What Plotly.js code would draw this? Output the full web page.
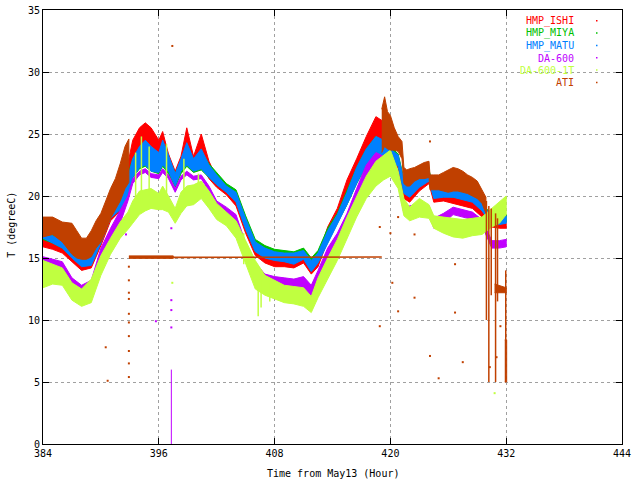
<!DOCTYPE html>
<html>
<head>
<meta charset="utf-8">
<script src="https://cdn.plot.ly/plotly-3.0.1.min.js"></script>
<style>
  html, body { margin: 0; padding: 0; background: #ffffff; }
  #chart { width: 640px; height: 480px; }
</style>
</head>
<body>
<div id="chart"></div>
<script>
// hours from May13, common sample grid for the HMP / DA bands
var hours = [
  384, 385, 386, 387, 388, 389, 390, 391, 392, 392.8,
  393.3, 394, 394.6, 395.2, 396, 396.4, 397, 397.7, 398.3, 398.9,
  399.6, 400.4, 401.2, 402, 403, 404, 405, 406, 407, 408,
  409, 410, 411, 411.8, 412.5, 413.5, 414.5, 415.5, 416.5, 417.5,
  418.5, 419.3, 420, 420.8, 421.4, 422, 423, 424, 424.5, 425.5,
  426.5, 427.5, 428.5, 429.5, 430.5, 431.3, 432
];

// HMP_ISHI (red) spread, low / high
var ishiLo = [
  15.9, 15.7, 15.4, 14.7, 14.0, 14.2, 16.0, 18.0, 18.8, 20.5,
  22.7, 23.5, 23.5, 23.0, 22.5, 23.5, 22.4, 20.8, 22.2, 23.3,
  22.0, 22.5, 21.4, 20.7, 20.1, 19.2, 17.0, 15.2, 14.6, 14.3,
  14.3, 14.2, 14.6, 13.7, 14.3, 16.4, 18.1, 20.0, 21.6, 23.2,
  24.8, 24.0, 23.0, 22.2, 19.8, 19.5, 20.4, 21.0, 19.5, 19.6,
  19.4, 19.2, 19.0, 18.3, 17.5, 17.4, 17.4
];
var ishiHi = [
  17.1, 16.6, 16.2, 15.5, 14.8, 15.0, 16.8, 18.7, 19.6, 22.5,
  24.5, 25.5, 25.9, 25.5, 24.5, 25.2, 23.4, 22.0, 23.2, 25.5,
  23.2, 25.0, 22.8, 21.5, 20.6, 20.0, 18.0, 16.0, 15.2, 15.0,
  15.0, 15.0, 15.2, 14.5, 15.1, 17.5, 19.0, 21.3, 23.0, 24.8,
  26.4, 26.0, 24.5, 23.0, 21.0, 20.8, 21.3, 21.8, 20.3, 20.2,
  20.0, 19.9, 19.7, 19.0, 17.9, 17.8, 17.8
];

// HMP_MIYA (green)
var miyaLo = [
  16.5, 16.2, 15.8, 15.0, 14.4, 14.5, 16.3, 18.3, 19.0, 20.2,
  21.5, 22.2, 22.4, 22.0, 21.8, 22.4, 21.8, 20.7, 21.8, 22.4,
  21.9, 22.1, 21.5, 21.0, 20.4, 19.6, 17.4, 15.6, 15.1, 14.9,
  14.8, 14.6, 15.0, 14.0, 14.7, 16.3, 17.8, 19.3, 21.0, 22.4,
  23.3, 23.0, 22.8, 22.5, 20.4, 20.0, 20.8, 21.3, 19.9, 20.0,
  19.9, 19.8, 19.6, 18.9, 17.8, 17.9, 17.9
];
var miyaHi = [
  17.1, 16.9, 16.6, 15.8, 15.1, 15.4, 17.2, 19.0, 19.7, 21.7,
  23.0, 23.8, 24.3, 23.8, 23.3, 24.3, 23.1, 21.8, 22.8, 24.0,
  22.9, 23.6, 22.6, 21.9, 21.0, 20.5, 18.4, 16.5, 16.0, 15.7,
  15.6, 15.5, 15.8, 15.0, 15.6, 17.4, 18.6, 20.4, 22.3, 23.8,
  24.8, 24.4, 23.9, 23.4, 21.4, 21.2, 21.7, 22.1, 20.6, 20.6,
  20.6, 20.4, 20.3, 19.5, 18.4, 18.4, 18.5
];

// HMP_MATU (blue)
var matuLo = [
  16.6, 16.2, 15.8, 15.0, 14.3, 14.4, 16.2, 18.2, 18.9, 20.0,
  21.5, 22.3, 22.5, 22.0, 21.9, 22.5, 22.0, 20.8, 22.0, 22.5,
  22.0, 22.2, 21.5, 20.9, 20.3, 19.5, 17.3, 15.5, 15.0, 14.8,
  14.7, 14.5, 14.9, 13.9, 14.6, 16.2, 17.7, 19.3, 21.0, 22.5,
  23.4, 23.0, 22.8, 22.4, 20.2, 19.9, 20.7, 21.2, 19.8, 19.9,
  19.9, 19.7, 19.5, 18.8, 17.7, 17.7, 17.8
];
var matuHi = [
  17.2, 16.8, 16.5, 15.7, 15.0, 15.2, 17.0, 18.8, 19.5, 21.5,
  23.0, 24.0, 24.5, 24.0, 23.5, 24.5, 23.3, 21.8, 23.0, 24.3,
  23.0, 23.8, 22.5, 21.7, 20.8, 20.3, 18.2, 16.3, 15.8, 15.5,
  15.4, 15.4, 15.6, 14.8, 15.4, 17.2, 18.5, 20.3, 22.3, 23.8,
  24.8, 24.5, 23.8, 23.3, 21.3, 21.0, 21.5, 22.0, 20.5, 20.5,
  20.5, 20.3, 20.2, 19.4, 18.3, 18.3, 18.4
];

// DA-600 (violet)
var da600Lo = [
  14.6, 14.4, 14.1, 12.8, 12.0, 12.3, 14.8, 16.4, 17.8, 19.6,
  21.0, 21.7, 21.9, 21.5, 21.4, 21.9, 21.4, 20.3, 21.3, 21.7,
  21.3, 21.4, 20.4, 19.0, 18.5, 17.8, 15.2, 13.7, 12.8, 12.6,
  12.5, 12.4, 12.6, 11.8, 13.0, 14.5, 16.0, 17.5, 19.3, 21.2,
  22.0, 22.0, 21.6, 21.0, 18.6, 18.7, 18.8, 18.6, 17.4, 17.8,
  18.5, 18.3, 18.1, 17.6, 15.8, 15.8, 15.9
];
var da600Hi = [
  15.1, 14.9, 14.7, 13.4, 12.8, 13.2, 15.8, 17.4, 18.8, 20.0,
  21.4, 22.0, 22.2, 21.8, 21.7, 22.2, 21.7, 20.6, 21.6, 22.0,
  21.6, 21.7, 20.8, 19.6, 19.1, 18.5, 16.2, 14.6, 13.7, 13.5,
  13.4, 13.3, 13.5, 12.8, 14.0, 15.8, 17.0, 18.6, 20.6, 22.5,
  23.5, 23.2, 22.8, 22.0, 19.3, 19.2, 19.4, 19.2, 18.2, 18.6,
  19.1, 18.9, 18.7, 18.1, 16.4, 16.4, 16.5
];

// DA-600-1T (yellow green)
var da6001tLo = [
  12.6, 12.9, 12.8, 11.6, 11.1, 11.4, 13.6, 15.3, 16.6, 17.3,
  17.8, 18.5, 18.8, 19.0, 18.9, 18.9, 18.7, 17.8, 18.6, 19.2,
  19.3, 19.8, 19.0, 18.1, 17.6, 16.6, 14.6, 12.5, 12.0, 11.7,
  11.4, 11.3, 11.1, 10.6, 11.8, 13.3, 14.8, 16.6, 18.3, 19.8,
  20.8, 21.3, 21.6, 20.6, 18.4, 18.0, 18.3, 18.2, 17.4, 17.0,
  16.7, 16.6, 16.8, 16.9, 17.5, 17.8, 18.5
];
var da6001tHi = [
  14.8, 14.5, 14.2, 13.0, 12.5, 13.3, 15.2, 16.6, 17.9, 18.7,
  19.6, 20.4, 20.5, 20.6, 20.2, 20.8, 20.0, 19.0, 20.3, 20.8,
  20.9, 21.2, 20.4, 19.4, 18.7, 18.0, 16.4, 14.8, 13.6, 13.2,
  12.8, 12.7, 12.6, 11.9, 13.4, 15.0, 16.5, 18.3, 20.0, 21.6,
  22.8, 23.3, 23.7, 22.0, 19.8, 19.1, 19.8, 19.3, 18.4, 18.3,
  18.2, 18.1, 18.2, 18.3, 19.0, 19.5, 20.0
];
// DA-600-1T single spikes
var da6001tSpikeH  = [393.6, 394.2, 395.0, 396.8, 398.6, 400.1, 404.8, 406.3, 406.6, 407.5];
var da6001tSpikeLo = [19.0, 19.5, 20.0, 19.5, 19.8, 20.5, 14.5, 10.3, 11.0, 11.5];
var da6001tSpikeHi = [23.5, 24.8, 24.0, 24.2, 23.0, 21.8, 17.0, 13.5, 13.5, 13.0];
var da6001tDotH = [397.4, 430.8];
var da6001tDotT = [13.0, 4.1];

// DA-600 stray points
var da600SpikeH  = [397.3];
var da600SpikeLo = [0.0];
var da600SpikeHi = [6.0];
var da600DotH = [397.3, 397.3, 397.3, 395.7, 397.3, 392.6];
var da600DotT = [11.6, 10.8, 9.4, 9.9, 17.4, 16.9];

// ATI (brown), three stretches
var atiH1  = [384, 385, 386, 387, 387.5, 388, 388.5, 389, 389.5, 390, 390.5, 391, 391.5, 392, 392.5, 392.9];
var atiLo1 = [16.7, 16.9, 16.3, 15.3, 15.0, 14.9, 14.9, 15.1, 15.8, 16.3, 17.2, 18.2, 18.9, 19.6, 20.6, 21.1];
var atiHi1 = [18.3, 18.3, 17.9, 17.8, 17.2, 16.6, 16.6, 17.2, 18.0, 18.6, 19.6, 20.6, 21.4, 22.6, 24.0, 24.6];

var atiFlatH  = [392.9, 397.5, 397.5, 419.1];
var atiFlatLo = [14.97, 14.97, 15.02, 15.02];
var atiFlatHi = [15.17, 15.17, 15.08, 15.08];

var atiH2 = [
  419.1, 419.4, 419.7, 420, 420.4, 420.8, 421.2, 421.4, 421.7, 422,
  422.5, 423, 423.5, 424, 424.1, 424.5, 425, 425.5, 426, 426.5,
  427, 427.5, 428, 428.5, 429, 429.5, 429.9
];
var atiLo2 = [
  23.5, 24.0, 23.8, 23.7, 23.7, 23.6, 23.0, 21.0, 20.8, 20.8,
  21.2, 21.4, 21.4, 21.5, 20.5, 20.5, 20.5, 20.4, 20.3, 20.4,
  20.4, 20.3, 20.2, 20.0, 19.8, 19.4, 18.6
];
var atiHi2 = [
  27.0, 28.0, 26.8, 26.5, 25.5, 24.8, 24.4, 22.3, 22.1, 22.2,
  22.3, 22.5, 22.7, 22.8, 21.7, 21.7, 21.7, 21.9, 22.1, 22.3,
  22.2, 22.0, 21.7, 21.5, 21.2, 20.5, 19.9
];
var atiBlockH  = [430.8, 432.0];
var atiBlockLo = [12.2, 12.2];
var atiBlockHi = [12.9, 12.6];
var atiColH  = [431.85, 432.05];
var atiColLo = [5.0, 5.0];
var atiColHi = [8.4, 8.4];
var atiSpikeH  = [429.95, 430.2, 430.45, 430.9, 431.1, 431.95];
var atiSpikeLo = [10.0, 5.0, 12.0, 5.0, 11.5, 8.4];
var atiSpikeHi = [19.6, 19.2, 19.0, 18.6, 18.2, 14.0];
var atiDotH = [
  392.9, 392.9, 392.9, 392.9, 392.9, 392.9, 392.9, 392.9, 392.9, 392.9,
  390.5, 390.7, 397.4, 418.9, 420.8, 420.0, 422.5, 424.1, 420.2, 422.5,
  420.8, 426.7, 426.7, 418.9, 424.1, 427.5, 425.0, 431.4, 431.0, 430.3
];
var atiDotT = [
  14.3, 13.2, 12.2, 11.7, 10.5, 9.8, 8.7, 7.5, 6.5, 5.4,
  7.8, 5.1, 32.1, 17.5, 18.3, 17.0, 16.9, 24.4, 13.0, 11.8,
  10.7, 14.5, 10.6, 9.5, 7.1, 6.6, 5.3, 9.5, 7.0, 6.2
];

var seriesNames  = ['HMP_ISHI', 'HMP_MIYA', 'HMP_MATU', 'DA-600', 'DA-600-1T', 'ATI'];
var seriesColors = ['#ff0000', '#00c000', '#0080ff', '#c000ff', '#c0ff40', '#c04000'];

var FONT = 'DejaVu Sans Mono, Liberation Mono, monospace';
// plot box in pixels (gnuplot frame)
var BOX = { left: 43, right: 622, top: 10, bottom: 444.3 };

function px_x(px) {
  return (px - BOX.left) / (BOX.right - BOX.left);
}

function px_y(py) {
  return (BOX.bottom - py) / (BOX.bottom - BOX.top);
}

function band(h, lo, hi, color) {
  return {
    x: h.concat(h.slice().reverse()),
    y: hi.concat(lo.slice().reverse()),
    type: 'scatter',
    mode: 'lines',
    fill: 'toself',
    fillcolor: color,
    line: { color: color, width: 1 },
    hoverinfo: 'skip',
    showlegend: false
  };
}

function spikes(h, lo, hi, color, width) {
  var x = [];
  var y = [];
  h.forEach(function (v, i) {
    x.push(v, v, null);
    y.push(lo[i], hi[i], null);
  });
  return {
    x: x,
    y: y,
    type: 'scatter',
    mode: 'lines',
    connectgaps: false,
    line: { color: color, width: width },
    hoverinfo: 'skip',
    showlegend: false
  };
}

function dots(h, t, color) {
  return {
    x: h,
    y: t,
    type: 'scatter',
    mode: 'markers',
    marker: { color: color, size: 2, symbol: 'square', line: { width: 0 } },
    hoverinfo: 'skip',
    showlegend: false
  };
}

var c = seriesColors;
var traces = [
  band(hours, ishiLo, ishiHi, c[0]),
  band(hours, miyaLo, miyaHi, c[1]),
  band(hours, matuLo, matuHi, c[2]),
  band(hours, da600Lo, da600Hi, c[3]),
  spikes(da600SpikeH, da600SpikeLo, da600SpikeHi, c[3], 1),
  dots(da600DotH, da600DotT, c[3]),
  band(hours, da6001tLo, da6001tHi, c[4]),
  spikes(da6001tSpikeH, da6001tSpikeLo, da6001tSpikeHi, c[4], 1.5),
  dots(da6001tDotH, da6001tDotT, c[4]),
  band(atiH1, atiLo1, atiHi1, c[5]),
  band(atiFlatH, atiFlatLo, atiFlatHi, c[5]),
  band(atiH2, atiLo2, atiHi2, c[5]),
  band(atiBlockH, atiBlockLo, atiBlockHi, c[5]),
  band(atiColH, atiColLo, atiColHi, c[5]),
  spikes(atiSpikeH, atiSpikeLo, atiSpikeHi, c[5], 1.5),
  dots(atiDotH, atiDotT, c[5])
];

var annotations = [
  {
    text: 'Time from May13 (Hour)',
    xref: 'paper', yref: 'paper',
    x: 0.5, y: px_y(474),
    xanchor: 'center', yanchor: 'middle',
    showarrow: false,
    font: { family: FONT, size: 10, color: '#000000' }
  },
  {
    text: 'T (degreeC)',
    xref: 'paper', yref: 'paper',
    x: px_x(12), y: px_y(225),
    xanchor: 'center', yanchor: 'middle',
    textangle: -90,
    showarrow: false,
    font: { family: FONT, size: 10, color: '#000000' }
  }
];
var shapes = [];

seriesNames.forEach(function (name, i) {
  var rowY = 21 + i * 12.35;
  annotations.push({
    text: name,
    xref: 'paper', yref: 'paper',
    x: px_x(576), y: px_y(rowY),
    xanchor: 'right', yanchor: 'middle',
    showarrow: false,
    font: { family: FONT, size: 10, color: seriesColors[i] }
  });
  shapes.push({
    type: 'rect',
    xref: 'paper', yref: 'paper',
    x0: px_x(596), x1: px_x(597.5),
    y0: px_y(rowY - 1), y1: px_y(rowY + 0.5),
    fillcolor: seriesColors[i],
    line: { width: 0 }
  });
});

var axisBase = {
  showline: true,
  linecolor: '#000000',
  linewidth: 1,
  mirror: 'ticks',
  ticks: 'inside',
  ticklen: 6,
  tickcolor: '#000000',
  showgrid: true,
  gridcolor: '#a0a0a0',
  griddash: '3px,3px',
  gridwidth: 1,
  zeroline: false,
  tickfont: { family: FONT, size: 10, color: '#000000' }
};

var layout = {
  width: 640,
  height: 480,
  margin: { l: BOX.left, r: 640 - BOX.right, t: BOX.top, b: 480 - BOX.bottom, pad: 0 },
  paper_bgcolor: '#ffffff',
  plot_bgcolor: '#ffffff',
  showlegend: false,
  xaxis: Object.assign({}, axisBase, {
    range: [384, 444],
    tick0: 384,
    dtick: 12
  }),
  yaxis: Object.assign({}, axisBase, {
    range: [0, 35],
    tick0: 0,
    dtick: 5
  }),
  annotations: annotations,
  shapes: shapes
};

var config = {
  staticPlot: true,
  displayModeBar: false
};

Plotly.newPlot('chart', traces, layout, config);
</script>
</body>
</html>
